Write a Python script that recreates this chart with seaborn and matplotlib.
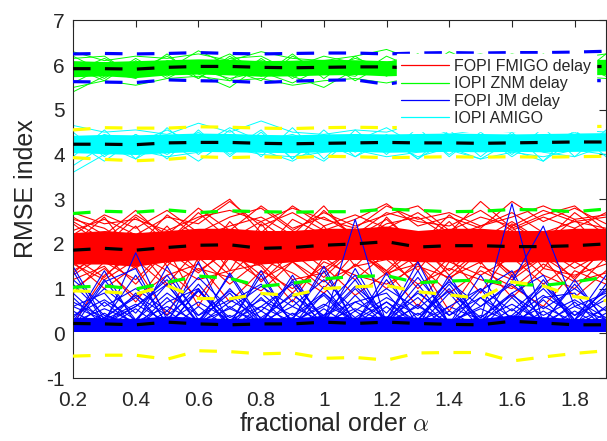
import numpy as np
import pandas as pd
import matplotlib
matplotlib.use("Agg")
import matplotlib.pyplot as plt
from matplotlib.lines import Line2D
import seaborn as sns

# ---------------- data ----------------
alpha = [0.2, 0.3, 0.4, 0.5, 0.6, 0.7, 0.8, 0.9, 1.0, 1.1, 1.2, 1.3, 1.4, 1.5, 1.6, 1.7, 1.8, 1.9]

labels = ["FOPI FMIGO delay", "IOPI ZNM delay", "FOPI JM delay", "IOPI AMIGO"]

# IOPI ZNM delay (green)
green_mean = [5.92, 5.92, 5.91, 5.95, 5.97, 5.97, 5.95, 5.94, 5.95, 5.96, 5.96, 5.93, 5.95, 5.95, 5.95, 5.96, 5.96, 5.97]
green_hi = [6.25, 6.26, 6.25, 6.26, 6.28, 6.26, 6.25, 6.26, 6.27, 6.27, 6.25, 6.27, 6.28, 6.27, 6.28, 6.28, 6.29, 6.31]
green_lo = [5.63, 5.62, 5.61, 5.67, 5.65, 5.64, 5.61, 5.64, 5.66, 5.67, 5.57, 5.68, 5.67, 5.66, 5.66, 5.67, 5.66, 5.65]
green_core_top = [6.10, 6.08, 6.10, 6.12, 6.14, 6.13, 6.10, 6.11, 6.13, 6.12, 6.10, 6.12, 6.13, 6.12, 6.13, 6.14, 6.12, 6.13]
green_core_bot = [5.74, 5.76, 5.72, 5.78, 5.80, 5.78, 5.75, 5.76, 5.78, 5.79, 5.76, 5.78, 5.79, 5.78, 5.78, 5.79, 5.78, 5.79]
green_runs = [
    [5.40, 5.75, 5.85, 5.80, 5.90, 5.70, 5.85, 5.60, 5.95, 5.90, 5.85, 5.70, 5.95, 5.90, 5.85, 5.90, 5.80, 5.95],
    [6.30, 6.10, 6.20, 6.15, 6.25, 6.10, 6.30, 6.15, 6.10, 6.20, 6.35, 6.10, 6.15, 6.25, 6.10, 6.20, 6.15, 6.25],
    [5.50, 5.65, 5.55, 5.70, 5.75, 5.65, 5.70, 5.55, 5.65, 5.70, 5.60, 5.75, 5.65, 5.70, 5.65, 5.70, 5.75, 5.70],
    [5.60, 5.95, 6.05, 5.90, 6.32, 6.00, 6.10, 5.95, 6.20, 6.05, 6.00, 6.20, 6.10, 6.05, 6.25, 6.10, 6.05, 6.00],
    [6.20, 5.85, 5.70, 6.10, 5.95, 6.25, 5.80, 6.05, 5.90, 6.15, 5.95, 5.85, 6.30, 6.00, 5.90, 6.15, 5.95, 6.10],
    [5.75, 6.05, 5.90, 6.20, 5.80, 5.50, 6.00, 5.75, 5.50, 5.90, 6.05, 6.25, 5.85, 6.10, 6.00, 5.80, 6.20, 5.90],
    [6.05, 5.70, 6.15, 5.75, 6.10, 5.90, 5.65, 6.20, 5.85, 5.75, 6.20, 5.90, 6.05, 5.75, 6.15, 5.95, 5.75, 6.05],
    [5.85, 6.15, 5.80, 6.00, 5.70, 6.15, 6.20, 5.85, 6.05, 6.00, 5.80, 6.05, 5.75, 6.15, 5.80, 6.25, 5.90, 5.80],
    [5.95, 5.65, 6.10, 5.70, 6.05, 5.65, 6.15, 5.70, 6.10, 5.65, 6.05, 5.70, 6.15, 5.65, 6.10, 5.70, 6.05, 5.75],
    [6.15, 6.20, 5.75, 6.25, 5.70, 6.20, 5.75, 6.25, 5.70, 6.20, 5.75, 6.25, 5.70, 6.20, 5.75, 6.20, 5.70, 6.25],
]

# IOPI AMIGO (cyan)
cyan_mean = [4.23, 4.23, 4.22, 4.26, 4.27, 4.27, 4.25, 4.24, 4.25, 4.26, 4.27, 4.26, 4.26, 4.25, 4.26, 4.27, 4.28, 4.28]
cyan_hi = [4.55, 4.60, 4.59, 4.59, 4.62, 4.61, 4.59, 4.58, 4.60, 4.61, 4.60, 4.61, 4.62, 4.61, 4.60, 4.61, 4.62, 4.63]
cyan_lo = [3.93, 3.89, 3.86, 3.89, 3.95, 3.93, 3.95, 3.93, 3.96, 3.95, 3.93, 3.94, 3.95, 3.94, 3.95, 3.94, 3.95, 3.96]
cyan_core_top = [4.43, 4.45, 4.44, 4.46, 4.48, 4.47, 4.45, 4.44, 4.46, 4.47, 4.46, 4.47, 4.48, 4.47, 4.46, 4.47, 4.48, 4.49]
cyan_core_bot = [4.04, 4.02, 4.00, 4.04, 4.07, 4.06, 4.05, 4.04, 4.06, 4.07, 4.05, 4.06, 4.07, 4.06, 4.07, 4.06, 4.07, 4.08]
cyan_runs = [
    [3.60, 4.00, 4.10, 3.95, 4.05, 4.15, 4.00, 3.95, 4.05, 4.10, 3.95, 4.05, 4.10, 3.90, 4.05, 3.95, 4.10, 4.00],
    [4.65, 4.50, 4.55, 4.45, 4.70, 4.50, 4.75, 4.50, 4.45, 4.55, 4.50, 4.70, 4.45, 4.55, 4.50, 4.60, 4.55, 4.50],
    [3.75, 4.20, 3.90, 4.30, 3.85, 4.35, 4.10, 3.85, 4.25, 3.95, 4.30, 3.95, 4.15, 3.90, 4.30, 4.05, 3.95, 4.20],
    [4.40, 4.05, 4.45, 4.10, 4.50, 4.00, 4.40, 4.20, 3.85, 4.40, 4.10, 4.45, 4.00, 4.45, 3.95, 4.40, 4.20, 4.35],
    [4.10, 4.45, 4.25, 4.55, 4.20, 4.60, 4.30, 4.45, 4.20, 4.30, 4.60, 4.20, 4.40, 4.15, 4.45, 4.25, 4.50, 4.15],
    [4.30, 3.85, 4.35, 4.00, 4.40, 4.10, 4.55, 3.90, 4.45, 4.05, 4.40, 3.90, 4.35, 4.20, 4.10, 3.85, 4.35, 4.40],
    [4.50, 3.95, 4.45, 3.90, 4.55, 3.95, 4.50, 3.90, 4.55, 3.95, 4.45, 3.90, 4.55, 3.95, 4.50, 3.85, 4.55, 3.95],
    [3.95, 4.55, 3.90, 4.60, 4.00, 4.55, 3.95, 4.60, 3.90, 4.55, 4.00, 4.60, 3.95, 4.50, 4.00, 4.60, 3.95, 4.55],
]

# FOPI FMIGO delay (red)
red_mean = [1.86, 1.90, 1.86, 1.92, 1.97, 1.98, 1.90, 1.92, 1.97, 2.00, 2.05, 1.93, 1.96, 1.96, 1.94, 1.94, 1.96, 2.00]
red_hi = [2.68, 2.73, 2.71, 2.76, 2.70, 2.74, 2.72, 2.71, 2.72, 2.72, 2.78, 2.75, 2.72, 2.73, 2.77, 2.76, 2.72, 2.78]
red_lo = [1.03, 1.06, 0.99, 1.14, 1.28, 1.23, 1.05, 1.12, 1.22, 1.27, 1.29, 1.13, 1.17, 1.19, 1.10, 1.07, 1.15, 1.26]
red_core_top = [2.25, 2.30, 2.25, 2.30, 2.35, 2.35, 2.30, 2.30, 2.35, 2.35, 2.40, 2.30, 2.35, 2.35, 2.30, 2.30, 2.35, 2.35]
red_core_bot = [1.55, 1.55, 1.50, 1.60, 1.65, 1.65, 1.55, 1.60, 1.65, 1.65, 1.65, 1.60, 1.60, 1.60, 1.60, 1.60, 1.60, 1.65]
red_runs = [
    [2.30, 2.55, 2.20, 2.60, 2.45, 2.95, 2.40, 2.70, 2.30, 2.55, 2.90, 2.40, 2.60, 2.35, 2.95, 2.50, 2.80, 2.45],
    [1.20, 1.50, 0.70, 1.60, 1.20, 1.40, 1.55, 0.90, 1.60, 1.30, 1.10, 1.50, 1.25, 1.60, 0.80, 1.45, 1.30, 1.55],
    [0.20, 1.30, 1.80, 1.40, 0.80, 1.70, 1.20, 1.60, 1.00, 1.80, 1.40, 0.60, 1.60, 1.30, 1.70, 1.10, 1.60, 1.20],
    [2.50, 2.10, 2.65, 2.20, 2.80, 2.30, 2.85, 2.35, 2.60, 2.20, 2.70, 2.50, 2.40, 2.75, 2.30, 2.60, 2.35, 2.70],
    [1.60, 1.00, 1.50, 0.40, 1.70, 1.10, 1.65, 1.35, 0.90, 1.55, 1.00, 1.60, 0.50, 1.50, 1.20, 1.70, 0.80, 1.40],
    [2.00, 2.60, 1.70, 2.40, 1.60, 2.50, 1.80, 2.55, 2.20, 1.70, 2.60, 1.90, 2.50, 1.80, 2.45, 2.00, 2.55, 1.80],
    [1.40, 1.80, 2.40, 1.50, 2.30, 1.40, 2.45, 1.60, 2.40, 1.50, 2.20, 1.40, 2.30, 1.55, 2.40, 1.45, 2.35, 1.60],
    [0.90, 1.60, 1.20, 1.90, 0.60, 1.80, 1.50, 0.70, 1.70, 1.20, 1.80, 1.00, 1.70, 0.90, 1.90, 1.30, 1.00, 1.70],
    [2.60, 2.20, 2.75, 2.10, 2.55, 3.00, 2.25, 2.85, 2.40, 2.65, 2.35, 2.70, 2.25, 2.95, 2.35, 2.65, 2.85, 2.30],
    [1.70, 1.25, 1.95, 1.10, 1.90, 1.30, 2.00, 1.20, 1.35, 1.95, 1.40, 2.05, 1.30, 1.90, 1.25, 1.85, 1.20, 1.95],
    [2.45, 1.95, 2.60, 2.05, 2.70, 2.10, 2.50, 2.00, 2.75, 2.15, 2.55, 1.95, 2.65, 2.10, 2.50, 2.05, 2.70, 2.20],
    [1.30, 1.75, 1.10, 1.85, 1.35, 1.95, 1.15, 1.80, 1.25, 1.90, 1.30, 1.75, 1.20, 1.85, 1.35, 1.70, 1.25, 1.90],
    [2.20, 2.65, 2.35, 2.75, 2.25, 2.60, 2.80, 2.30, 2.70, 2.40, 2.65, 2.85, 2.30, 2.60, 2.40, 2.75, 2.50, 2.60],
    [1.55, 1.20, 1.65, 1.05, 1.45, 1.25, 0.95, 1.60, 1.15, 1.50, 1.65, 1.10, 1.45, 1.20, 1.00, 1.55, 1.15, 1.35],
    [2.55, 2.35, 1.90, 2.65, 2.15, 2.40, 2.60, 2.20, 2.85, 2.05, 2.45, 2.60, 2.15, 2.40, 2.70, 2.25, 2.50, 2.35],
    [1.00, 1.45, 0.80, 1.30, 1.55, 0.70, 1.40, 1.00, 1.50, 0.85, 1.35, 1.55, 0.90, 1.40, 1.05, 0.60, 1.40, 1.10],
    [2.70, 2.45, 2.55, 2.30, 2.60, 2.75, 2.50, 2.80, 2.55, 2.35, 2.85, 2.55, 2.70, 2.40, 2.60, 2.85, 2.55, 2.65],
    [1.35, 1.90, 1.45, 2.05, 1.40, 1.85, 1.30, 2.00, 1.45, 1.90, 1.35, 1.95, 1.40, 2.00, 1.30, 1.90, 1.45, 1.85],
]

# FOPI JM delay (blue)
blue_mean = [0.22, 0.21, 0.19, 0.25, 0.21, 0.19, 0.21, 0.21, 0.25, 0.22, 0.25, 0.22, 0.20, 0.19, 0.27, 0.23, 0.19, 0.19]
blue_hi = [0.95, 0.93, 0.88, 1.07, 0.78, 0.77, 0.89, 0.85, 1.00, 1.04, 1.07, 0.93, 0.86, 0.78, 1.15, 1.06, 0.82, 0.73]
blue_lo = [-0.51, -0.49, -0.49, -0.58, -0.39, -0.41, -0.46, -0.44, -0.56, -0.54, -0.60, -0.44, -0.43, -0.43, -0.62, -0.53, -0.45, -0.39]
blue_core_top = [0.36, 0.35, 0.33, 0.39, 0.35, 0.33, 0.35, 0.35, 0.39, 0.36, 0.39, 0.36, 0.34, 0.33, 0.41, 0.37, 0.33, 0.33]
blue_core_bot = [0.04, 0.04, 0.04, 0.04, 0.04, 0.04, 0.04, 0.04, 0.04, 0.04, 0.04, 0.04, 0.04, 0.04, 0.04, 0.04, 0.04, 0.04]
blue_runs = [
    [1.50, 0.30, 1.30, 0.20, 1.60, 0.20, 0.90, 0.30, 1.40, 0.20, 1.20, 0.30, 1.00, 0.20, 1.30, 0.25, 1.10, 0.30],
    [0.20, 1.20, 0.30, 1.10, 0.25, 1.30, 0.20, 1.20, 0.30, 1.00, 0.30, 1.40, 0.20, 1.30, 0.25, 1.20, 0.30, 1.00],
    [0.80, 0.15, 0.90, 0.10, 1.00, 0.15, 0.80, 0.10, 0.90, 0.20, 0.70, 0.15, 0.90, 0.10, 0.80, 0.15, 0.70, 0.10],
    [0.10, 0.70, 0.15, 0.80, 0.10, 0.60, 0.15, 0.75, 0.10, 0.85, 0.15, 0.65, 0.10, 0.80, 0.15, 0.75, 0.10, 0.60],
    [0.50, 0.10, 0.55, 0.05, 0.60, 0.10, 0.50, 0.05, 0.55, 0.10, 0.60, 0.05, 0.50, 0.10, 0.55, 0.05, 0.50, 0.10],
    [0.05, 0.45, 0.05, 0.50, 0.05, 0.40, 0.05, 0.45, 0.05, 0.50, 0.05, 0.45, 0.05, 0.40, 0.05, 0.50, 0.05, 0.45],
    [1.10, 0.40, 0.20, 1.50, 0.30, 0.20, 1.30, 0.20, 0.40, 1.20, 0.20, 0.30, 1.10, 0.20, 0.40, 1.00, 0.30, 0.20],
    [0.30, 0.20, 1.80, 0.30, 0.20, 1.00, 0.20, 0.30, 1.50, 0.20, 0.30, 1.60, 0.20, 0.30, 2.90, 0.20, 0.30, 1.30],
    [0.60, 0.90, 0.10, 0.70, 1.00, 0.10, 0.60, 1.10, 0.10, 0.70, 0.90, 0.10, 0.60, 1.00, 0.10, 0.80, 0.90, 0.10],
    [0.15, 0.35, 0.80, 0.15, 0.30, 0.90, 0.15, 0.35, 0.85, 0.15, 0.30, 0.80, 0.15, 0.35, 0.90, 0.15, 0.30, 0.85],
    [0.25, 1.40, 0.20, 0.30, 1.10, 0.25, 0.20, 1.30, 0.25, 2.55, 0.20, 0.30, 1.20, 0.25, 0.20, 1.10, 0.25, 0.20],
    [0.90, 0.25, 0.60, 1.20, 0.20, 0.70, 1.10, 0.25, 0.60, 1.30, 0.20, 0.95, 0.25, 0.60, 1.15, 2.40, 0.60, 0.90],
    [0.40, 0.75, 0.30, 0.90, 0.40, 0.75, 0.35, 0.85, 0.40, 0.70, 0.35, 0.90, 0.40, 0.80, 0.35, 0.85, 0.40, 0.75],
    [0.70, 0.35, 0.85, 0.40, 0.95, 0.35, 0.75, 0.40, 0.90, 0.35, 0.80, 0.40, 0.95, 0.35, 0.85, 0.40, 0.75, 0.35],
    [1.20, 0.60, 1.00, 0.50, 1.25, 0.55, 1.05, 0.60, 1.20, 0.50, 1.00, 0.55, 1.15, 0.60, 1.10, 0.55, 1.00, 0.50],
    [0.35, 1.00, 0.45, 1.30, 0.40, 0.95, 0.50, 1.15, 0.35, 1.05, 0.45, 1.25, 0.40, 1.00, 0.50, 1.10, 0.40, 0.95],
    [0.60, 0.30, 0.65, 0.25, 0.70, 0.30, 0.60, 0.25, 0.65, 0.30, 0.70, 0.25, 0.60, 0.30, 0.65, 0.25, 0.60, 0.30],
    [0.25, 0.55, 0.25, 0.60, 0.25, 0.55, 0.25, 0.60, 0.25, 0.55, 0.25, 0.60, 0.25, 0.55, 0.25, 0.60, 0.25, 0.55],
    [1.40, 0.20, 0.60, 1.10, 0.20, 1.35, 0.30, 0.90, 0.20, 1.45, 0.25, 1.10, 0.20, 0.95, 1.40, 0.20, 1.20, 0.25],
    [0.10, 1.15, 1.45, 0.15, 0.95, 0.20, 1.40, 0.15, 1.05, 0.20, 1.35, 0.15, 1.30, 0.20, 0.90, 1.30, 0.15, 1.10],
]

# ---------------- style ----------------
sns.set_theme(style="white")
plt.rcParams["font.family"] = ["Liberation Sans", "DejaVu Sans"]
plt.rcParams["mathtext.fontset"] = "cm"
plt.rcParams["axes.unicode_minus"] = False

fig = plt.figure(figsize=(6.07, 4.41), dpi=100)
ax = fig.add_axes([73 / 607, 1 - 378 / 441, 533 / 607, 357.6 / 441])

def long_df(runs):
    rows = []
    for k, r in enumerate(runs):
        for a, v in zip(alpha, r):
            rows.append((k, a, v))
    return pd.DataFrame(rows, columns=["run", "alpha", "rmse"])

def draw_group(runs, top, bot, color, lw):
    ax.fill_between(alpha, bot, top, color=color, lw=0, zorder=1)
    sns.lineplot(data=long_df(runs), x="alpha", y="rmse", units="run",
                 estimator=None, color=color, lw=lw, ax=ax, legend=False, zorder=1)

draw_group(red_runs, red_core_top, red_core_bot, "#FF0000", 0.8)
draw_group(green_runs, green_core_top, green_core_bot, "#00FF00", 0.7)
draw_group(blue_runs, blue_core_top, blue_core_bot, "#0000FF", 0.8)
draw_group(cyan_runs, cyan_core_top, cyan_core_bot, "#00FFFF", 0.7)

def dashed(vals, color):
    sns.lineplot(x=alpha, y=vals, color=color, lw=2.3, ax=ax, legend=False,
                 dashes=False, zorder=3).lines[-1].set_dashes((5.5, 4.5))

dashed(green_hi, "#0000FF")
dashed(green_lo, "#0000FF")
dashed(cyan_hi, "#FFFF00")
dashed(cyan_lo, "#FFFF00")
dashed(red_hi, "#00FF00")
dashed(red_lo, "#00FF00")
dashed(blue_hi, "#FFFF00")
dashed(blue_lo, "#FFFF00")
for m in (green_mean, cyan_mean, red_mean, blue_mean):
    dashed(m, "#000000")

ax.set_xlim(0.2, 1.9)
ax.set_ylim(-1, 7)
ax.set_xticks([0.2, 0.4, 0.6, 0.8, 1.0, 1.2, 1.4, 1.6, 1.8])
ax.set_xticklabels(["0.2", "0.4", "0.6", "0.8", "1", "1.2", "1.4", "1.6", "1.8"])
ax.set_yticks(range(-1, 8))
ax.set_yticklabels([str(v) for v in range(-1, 8)])
ax.tick_params(direction="in", length=5, width=0.8, top=True, right=True,
               labelsize=15, colors="#262626")
ax.tick_params(axis="x", pad=9)
ax.tick_params(axis="y", pad=6)
for s in ax.spines.values():
    s.set_color("#262626")
    s.set_linewidth(0.8)

ax.set_xlabel(r"fractional order $\alpha$", fontsize=18, color="#262626")
ax.set_ylabel("RMSE index", fontsize=18, color="#262626")
ax.xaxis.set_label_coords(0.49, -0.095)
ax.yaxis.set_label_coords(-0.065, 0.53)

handles = [Line2D([], [], color=c, lw=0.9) for c in ["#FF0000", "#00FF00", "#0000FF", "#00FFFF"]]
leg = ax.legend(handles, labels, loc="upper right", bbox_to_anchor=(0.981, 0.906),
                fontsize=11.5, frameon=True, facecolor="white", edgecolor="white",
                framealpha=1, fancybox=False, handlelength=3.0, handletextpad=0.3,
                labelspacing=0.15, borderpad=0.3, borderaxespad=0)
leg.set_zorder(5)
for t in leg.get_texts():
    t.set_color("#262626")

fig.savefig("out.png", dpi=100)
